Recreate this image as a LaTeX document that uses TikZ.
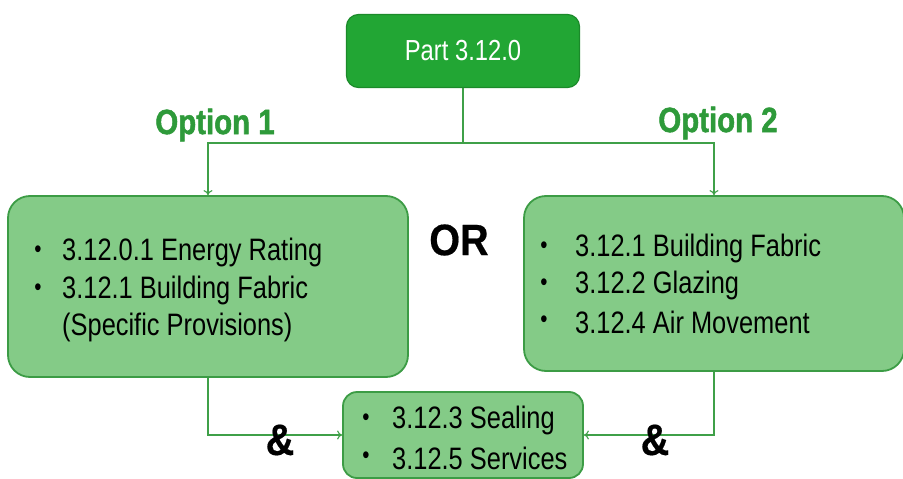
\documentclass[tikz,border=0pt]{standalone}
\usepackage{fontspec}
\setmainfont[FakeStretch=0.82]{Liberation Sans}
\newfontfamily\optfont[FakeStretch=0.84,FakeBold=1.5]{Liberation Sans}
\newfontfamily\symfont[FakeStretch=0.9,FakeBold=0.4]{Liberation Sans}
\usetikzlibrary{arrows.meta}
\definecolor{topgreen}{HTML}{22A634}
\definecolor{topborder}{HTML}{1B8A2A}
\definecolor{boxgreen}{HTML}{84CB87}
\definecolor{boxborder}{HTML}{3C9C45}
\definecolor{linegreen}{HTML}{3FA048}
\definecolor{optgreen}{HTML}{2E9A3A}
\tikzset{
  topbox/.style={draw=topborder,line width=1.2pt,fill=topgreen,rounded corners=12pt,text=white,font=\fontsize{29}{32}\selectfont,minimum width=233pt,minimum height=73pt},
  optbox/.style={draw=boxborder,line width=1.8pt,fill=boxgreen,rounded corners=22pt},
  conn/.style={draw=linegreen,line width=1.1pt},
  arr/.style={conn,-{To[length=5pt,width=9pt]}},
  itemtext/.style={font=\fontsize{31}{33}\selectfont,anchor=west,inner sep=0pt},
  bul/.style={font=\fontsize{25}{28}\selectfont,inner sep=0pt},
  optlabel/.style={font=\optfont\bfseries\fontsize{35}{38}\selectfont,text=optgreen},
  bigsym/.style={font=\symfont\bfseries\fontsize{44}{48}\selectfont,text=black},
}
\begin{document}
\begin{tikzpicture}[x=1pt,y=-1pt]
\useasboundingbox (0,0) rectangle (903,479);
\node[topbox] (top) at (463,51) {Part 3.12.0};
\node[optbox,minimum width=400pt,minimum height=181pt] (lb) at (208,286.5) {};
\node[optbox,minimum width=380pt,minimum height=175pt] (rb) at (714,283.5) {};
\node[optbox,minimum width=240pt,minimum height=86pt,rounded corners=14pt] (bb) at (463,435) {};
% option labels
\node[optlabel] (o1) at (215,125) {Option 1};
\node[optlabel] (o2) at (718,123) {Option 2};
% connectors
\draw[conn] (top.south) -- (463,143) coordinate (j);
\draw[arr] (j) -| (lb.north);
\draw[arr] (j) -| (rb.north);
\draw[arr] (lb.south) |- (bb.west);
\draw[arr] (rb.south) |- (bb.east);
% left items
\node[bul] (lb1) at (38,252) {•};
\node[itemtext] (lt1) at (62,252) {3.12.0.1 Energy Rating};
\node[bul] (lb2) at (38,290) {•};
\node[itemtext] (lt2) at (62,290) {3.12.1 Building Fabric};
\node[itemtext] (lt3) at (62,327) {(Specific Provisions)};
% right items
\node[bul] (rb1) at (544,248) {•};
\node[itemtext] (rt1) at (575,248) {3.12.1 Building Fabric};
\node[bul] (rb2) at (544,285) {•};
\node[itemtext] (rt2) at (575,285) {3.12.2 Glazing};
\node[bul] (rb3) at (544,322) {•};
\node[itemtext] (rt3) at (575,322) {3.12.4 Air Movement};
% bottom items
\node[bul] (bb1) at (366,420) {•};
\node[itemtext] (bt1) at (392,420) {3.12.3 Sealing};
\node[bul] (bb2) at (366,458) {•};
\node[itemtext] (bt2) at (392,458) {3.12.5 Services};
% OR and &
\node[bigsym] (or) at (459,240) {OR};
\node[bigsym] (a1) at (280,440) {\&};
\node[bigsym] (a2) at (655,440) {\&};
\end{tikzpicture}
\end{document}
